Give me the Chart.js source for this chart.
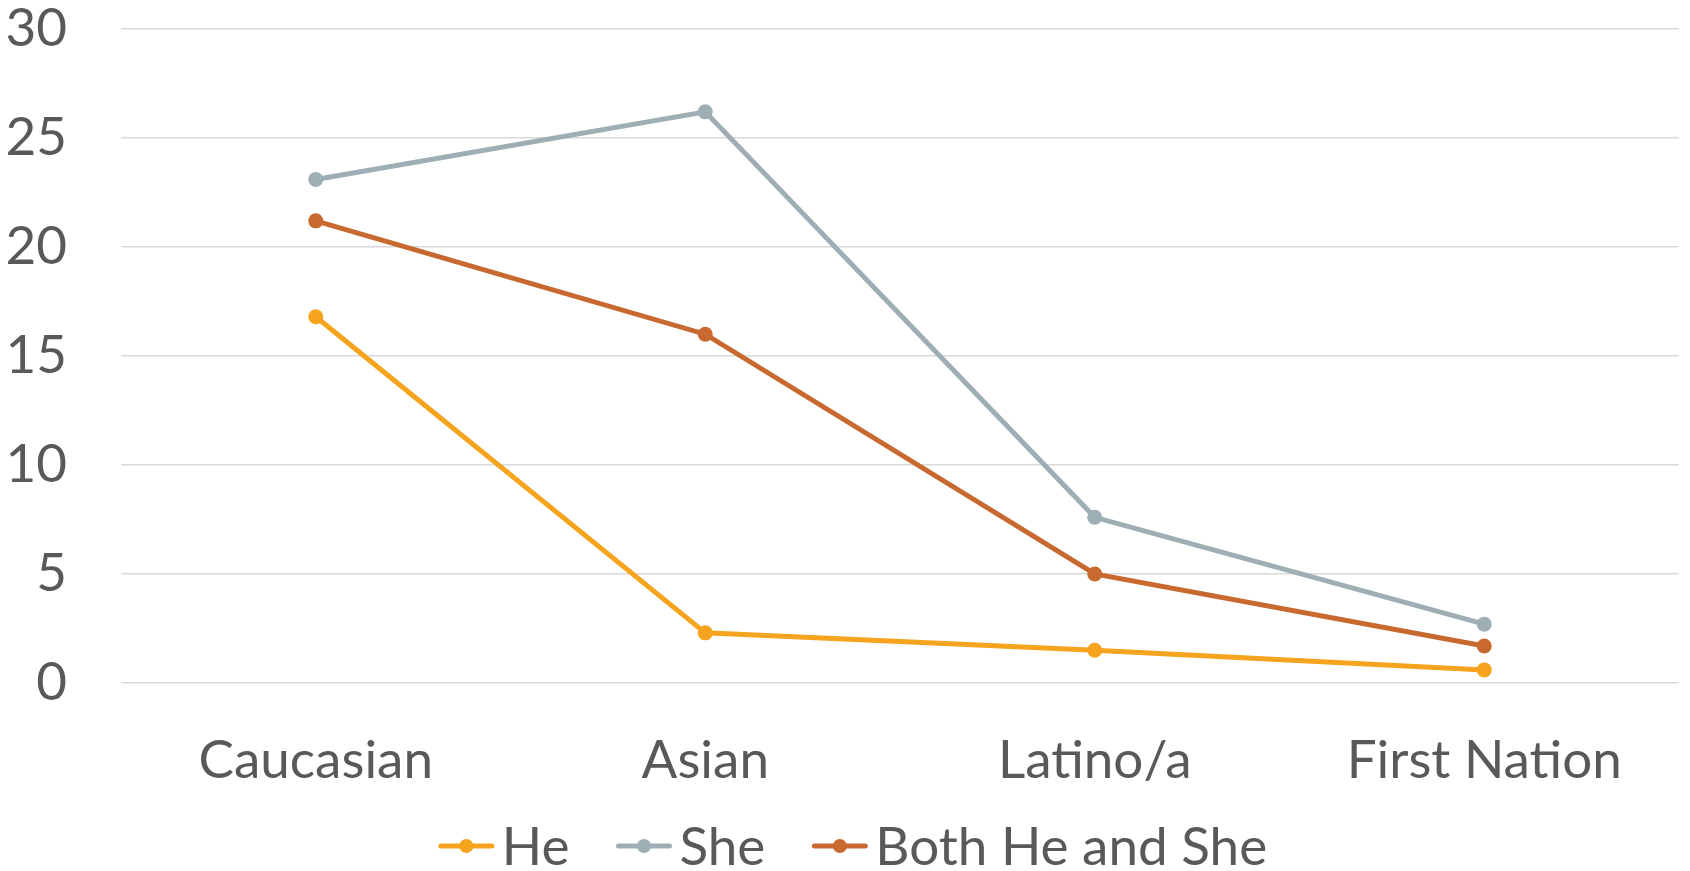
<!DOCTYPE html>
<html>
<head>
<meta charset="utf-8">
<script src="https://cdn.jsdelivr.net/npm/chart.js@4/dist/chart.umd.min.js"></script>
<style>
  html, body { margin: 0; padding: 0; background: #fff; }
  #wrap { width: 1690px; height: 871px; }
</style>
</head>
<body>
<div id="wrap"><canvas id="lineChart"></canvas></div>
<script>
const categories = ['Caucasian', 'Asian', 'Latino/a', 'First Nation'];
const heValues = [16.8, 2.3, 1.5, 0.6];
const sheValues = [23.1, 26.2, 7.6, 2.7];
const bothValues = [21.2, 16.0, 5.0, 1.7];
const seriesNames = ['He', 'She', 'Both He and She'];
const yTicks = [0, 5, 10, 15, 20, 25, 30];

const textColor = '#595959';
const fontFamily = 'Lato, "Open Sans", sans-serif';
const fontSize = 53;

// legend drawn by hand: line marker with a dot in the middle, text close to it
const lineLegend = {
  id: 'lineLegend',
  afterDraw(chart) {
    const ctx = chart.ctx;
    const markerW = 55, gapText = 8, gapItem = 47;
    const y = 846;
    ctx.save();
    ctx.font = fontSize + 'px ' + fontFamily;
    const items = chart.data.datasets.map(ds => ({
      label: ds.label, color: ds.borderColor, w: ctx.measureText(ds.label).width
    }));
    let total = 0;
    items.forEach((it, i) => { total += markerW + gapText + it.w + (i ? gapItem : 0); });
    let x = chart.width / 2 - total / 2 + 8;
    items.forEach(it => {
      ctx.strokeStyle = it.color;
      ctx.lineWidth = 5;
      ctx.lineCap = 'round';
      ctx.beginPath();
      ctx.moveTo(x + 2, y);
      ctx.lineTo(x + markerW - 2, y);
      ctx.stroke();
      ctx.fillStyle = it.color;
      ctx.beginPath();
      ctx.arc(x + markerW / 2, y, 7, 0, Math.PI * 2);
      ctx.fill();
      ctx.fillStyle = textColor;
      ctx.textAlign = 'left';
      ctx.textBaseline = 'middle';
      ctx.fillText(it.label, x + markerW + gapText, y + 2);
      x += markerW + gapText + it.w + gapItem;
    });
    ctx.restore();
  }
};

const ctx = document.getElementById('lineChart').getContext('2d');
const lineChart = new Chart(ctx, {
  type: 'line',
  data: {
    labels: categories,
    datasets: [{
      label: seriesNames[0],
      data: heValues,
      borderColor: '#F6A31E',
      backgroundColor: '#F6A31E'
    },
    {
      label: seriesNames[1],
      data: sheValues,
      borderColor: '#9DAFB4',
      backgroundColor: '#9DAFB4'
    },
    {
      label: seriesNames[2],
      data: bothValues,
      borderColor: '#C8692F',
      backgroundColor: '#C8692F'
    }]
  },
  options: {
    responsive: true,
    maintainAspectRatio: false,
    animation: false,
    elements: {
      line: { borderWidth: 5, tension: 0 },
      point: { radius: 7.5, borderWidth: 0, hoverRadius: 7.5 }
    },
    layout: { padding: { top: 29, right: 11, bottom: 78, left: 0 } },
    plugins: {
      legend: { display: false },
      tooltip: { enabled: false }
    },
    scales: {
      x: {
        offset: true,
        grid: { display: false },
        border: { display: false },
        ticks: {
          color: textColor,
          font: { family: fontFamily, size: fontSize },
          padding: 38,
          maxRotation: 0
        },
        afterFit(scale) { scale.height = 110; scale.paddingLeft = 0; scale.paddingRight = 0; }
      },
      y: {
        min: 0,
        max: 30,
        afterBuildTicks(scale) { scale.ticks = yTicks.map(v => ({ value: v })); },
        grid: { color: '#D9D9D9', lineWidth: 1.5, drawTicks: false },
        border: { display: false },
        ticks: {
          color: textColor,
          font: { family: fontFamily, size: fontSize },
          padding: 54
        },
        afterFit(scale) { scale.width = 121; scale.paddingTop = 0; scale.paddingBottom = 0; }
      }
    }
  },
  plugins: [lineLegend]
});
</script>
</body>
</html>
